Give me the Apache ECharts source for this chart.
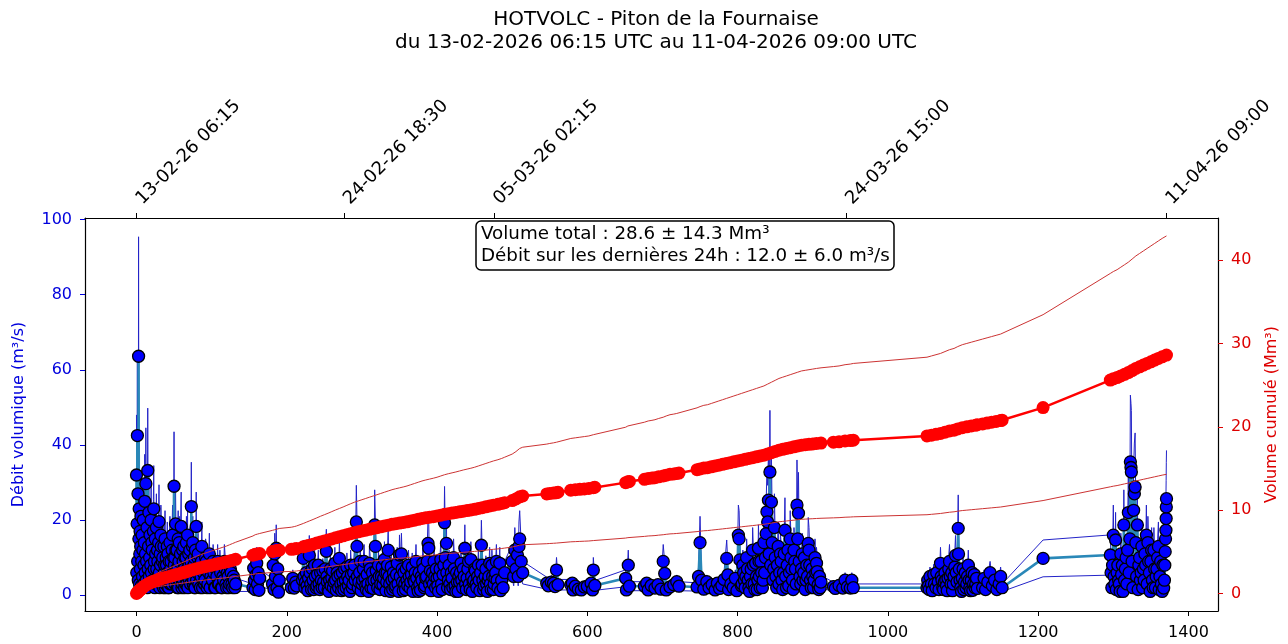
<!DOCTYPE html>
<html><head><meta charset="utf-8">
<script src="https://cdn.jsdelivr.net/npm/echarts@6/dist/echarts.min.js"></script>
<style>html,body{margin:0;padding:0;background:#fff}#c{width:1288px;height:644px}</style>
</head><body><div id="c"></div>
<script>
// Hours since 13-02-2026 06:15 UTC, volumetric flow (m3/s)
const flow = [
[0,32],[0.4,6],[0.8,19],[1.2,42.5],[1.6,9],[2,27],[2.4,4],[2.8,63.6],[3.2,15],[3.6,23],[4,3],[4.4,11],[4.8,17],[5.2,7],[5.6,13],[6,21],[6.5,2.5],[7,9],[7.5,16],[8,5],[8.5,12],[9,20],[9.5,3],[10,8],[10.5,14],[11,25],[11.5,6],[12,11],[12.5,29.7],[13,4],[13.5,9],[14,18],[14.5,2],[15,33.2],[15.5,7],[16,13],[16.5,22],[17,5],[17.5,10],[18,16],[18.5,3],[19,8],[19.5,20],
[20,6],[20.5,14],[21,12],[21.5,3],[22,4],[22.5,17],[23,23],[23.5,7],[24,9],[24.5,2],[25,15],[25.5,11],[26,3],[26.5,18],[27,7],[27.5,4],[28,12],[28.5,9],[29,5],[29.5,14],[30,19.6],[30.5,6],[31,2],[31.5,11],[32,8],[32.5,16],[33,13],[33.5,3],[34,4],[34.5,9],[35,10],[35.5,5],[36,2],[36.5,13],[37,6],[37.5,8],[38,15],[38.5,2],[39,3],[39.5,10],
[40,8],[40.5,4],[41,13],[41.5,6],[42,11],[42.5,2],[43,2],[43.5,9],[44,6],[44.5,14],[45,3],[45.5,7],[46,9],[46.5,4],[47,3],[47.5,12],[48,16],[48.5,6],[49,5],[49.5,10],[50,29],[50.5,8],[51,10],[51.5,3],[52,19],[52.5,12],[53,4],[53.5,7],[54,12],[54.5,2],[55,7],[55.5,15],[56,2],[56.5,9],[57,14],[57.5,4],[58,5],[58.5,11],[59.5,18.3],[60,6],[60.5,2],[61,3],[61.5,12],[62,9],[62.5,4],[63,13],[63.5,7],[64,2],[64.5,10],[65,6],[65.5,3],[66,10],[66.5,14],[67,3],[67.5,7],[68,16],[68.5,2],[69,5],[69.5,11],[70,8],[70.5,4],[71,12],[71.5,6],[72,3],[72.5,9],[73,23.6],[73.5,5],[74,7],[74.5,13],[75,14],[75.5,3],[76,4],[76.5,8],[77,10],[77.5,2],[78,2],[78.5,12],[79,6],[79.5,18.3],
[80,4],[81,6],[81.5,10],[82,11],[83,3],[83.5,7],[84,8],[85,2],[86,5],[86.5,9],[87,13],[88,2],[89,6],[90,7],[90.5,3],[91,4],[92,10],[93,9],[94,2],[95,3],[95.5,7],[96,6],[97,11],[98,2],[99,5],[100,8],[101,4],[102,9],[103,6],[104,2],[105,2],[106,7],[107,5],[108,9],[109,3],[110,3],[111,8],[112,6],[113,2],[114,2],[115,5],[116,4],[117,9],[118,7],[119,3],[120,2],[121,6],[122,5],[123,2],[124,3],[125,7],[126,6],[127,3],[128,2],[129,5],[130,4],[131,2],[132,3],
[155,2],[156,7.2],[157,4],[158,1.5],[159,5.3],[160,8.5],[161,3],[162,6],[163,1.3],[164,4.5],
[181,3],[182,8],[183,1.5],[184,11],[185,5],[186,12.5],[187,2],[188,7],[189,0.8],[190,4],
[206,2],[208,4.5],[210,1.9],[212,3.5],[213,2.5],
[221,4],[222,9.8],[223,5],[224,2],[225,3.5],[226,6],[227,2.5],[228,1.2],[229,4.5],[230,10.6],[231,6],[232,3],[233,1.5],[234,7],[235,4],[236,1.5],[237,8],[238,5],[239,2],[240,2.5],[241,5.5],[242,8],[243,3],[244,1.5],[245,6],[246,4],[247,2],[248,6.5],[249,3.5],[250,2],[251,7],[252.7,11.7],[253.5,5],[254,3.5],[255,1.5],[256,1],[257,4],[258,7],[259,2.5],[260,4.5],[261,6.5],[262,2],[263,3.5],[264,8.5],[265,4],[266,1.3],[267,6],[268,5],[269,2],[270,9.8],[271,5.5],[272,3],[273,1.2],[274,6],[275,3.5],[276,1.5],[277,7],[278,4],[279,2],[280,7.5],[281,5],[282,2.5],[283,4],[284,1],[285,8],[286,5.5],[287,2],[288,3],[289,6],[290,8],[291,4],[292.6,19.5],[293.5,13],[294,5],[295,2],[296,3.5],[297,6],[298,9],[299,1.2],[300,3],[301,4],[302,7],[303,9],[304,4.5],[305,2.5],[306,1.5],[307,5.5],[308,3],[309,1],[310,8.5],[311,7],[312,2],[313,3.5],[314,6],[315,1.8],[316,4],[317,18.7],[318,13],[319,6.5],[320,4],[321,2],[322,8],[323,5],[324,1.5],[325,3],[326,5],[327,7.5],[328,2.8],[329,4.5],[330,9.5],[331,6],[332,1.2],[333,3.5],[333.5,6],[334,8],[335,12],[336,5],[337,3],[338,1],[339,7.5],[340,4],[341,1.5],[342,6],[343,4.5],[344,2],[345,2.5],[346,5.5],[347,8.5],[348,3],[349,1],[350,10.7],[351,5],[352.6,11],[353.5,7],[354,3.5],[355,1.2],[356,6],[357,3],[358,1.5],[359,7],[360,4],[361,2.5],[362,8],[363,5],[364,2],[365,3.5],[366,5.5],[367,7.5],[368,1],[369,4],[370,3.5],[371,6],[372,9],[373,4.5],[374,2],[375,1],[376,6],[377,3],[378,1.3],[379,5],[380,4],[381,8.5],[382,7],[383,2],[384,2.5],[385,4.5],[386,5],[387,9],[388,13.8],[389,12.5],[390,3],[391,6.5],[392,1.2],[393,4],[394,6],[395,3],[396,9],[397,5],[398,2],[399,7],[400,4.5],[401,2.5],[402,1],[403,5],[404,7],[405,9.5],[406,3],[407,1.5],[408,5.5],[409,8],[410,19.3],[411,10],[412.5,13.8],[413,6],[414,2],[415,4],[416,8],[417,3],[418,1.5],[419,6],[420,4.5],[421,2],[422,10],[423,7],[424,2.5],[425,1],[426,6],[427,3.5],[428,1],[429,5],[430,3.5],[431,6],[432,8.5],[433,4],[434,2],[435,7],[436,5],[437,12.5],[438,3],[439,1.5],[440,4.5],[441,7],[442,9],[443,3],[444,1.5],[445,9.5],[446,5],[447,1],[448,3.5],[449,4],[450,7],[451,6.5],[452,3],[453,2],[454,5],[455,8],[456,4],[457,1.2],[458,6],[459,13.3],[460,8],[461,4],[462,1.5],[463,2.5],[464,5],[465,7],[466,3],[467,1],[468,4],[469,5],[470,8.5],[471,3],[472,1.5],[473,8],[474,5],[475,1.5],[476,3],[477,4.5],[478,6],[479,9],[480,4],[481,2],
[483.5,8.5],[484.5,1.2],[486,4],[488,2],[490,6],[500,9],[502,5],[503.5,12],[505,7],[507,10.7],[508,5],[509,13],[510,15],[512,9],[514,6],
[546,3.2],[548,2.5],[552,3.5],[555,3.2],[557,2.3],[559,6.7],[561,2.8],
[578,2.8],[580,3.2],[581,1.4],[584,2.4],[588,1.6],[592,1.4],[596,2.2],[600,2.4],[605,3.2],[607,1.4],[608,6.7],[610,2.6],
[651,4.5],[652,1.4],[654.5,8],[656,2.4],
[676,2.4],[679,3.2],[681,1.4],[685,2.6],[690,1.9],[694,2.8],[698,1.6],[701,9],[703,5.8],[705,1.4],[710,2.2],[715,2.8],[719,3.6],[722,2.4],
[746,2.2],[748,5],[750,14],[752,4],[755,1.6],[759,3.6],[762,2],[766,2.8],[770,1.4],[773,3.2],[776,1.8],[779,2.6],[782,4.2],[785.5,9.8],[787,5.4],[788,1.5],[791,3],[794,2],[797,4.5],[799,1.2],[801,16],[802,15],[803,9.4],[805,2.5],
[806,3],[807,8],[808,6],[809,4],[810,2],[811,5],[812,10],[813,7],[814,4],[815,2],[816,1],[817,5],[818,7],[819,3],[820,12],[821,8],[822,3],[823,1.5],[824,8.5],[825,5],[826,1.5],[827,4],[827.7,12.5],[828.5,9],[829,5],[830,2],[831,9],[832,6],[833,2],[834,4],[835,14],[836,6],[837,10],[838,16.4],[839,22.2],[840,19.5],[841,25.3],[842,11],[843,32.8],[844,8],[845,24.8],[846,14],[847,4],[848,7],[849,18],[850,10],[851,5],[852,2],[853,8],[854,13],[855,3],[856,6],[857,11],[858,9],[859,4],[860,1.5],[861,6],[862,11],[863,17.3],[864,5],[865,2],[866,8],[867,12],[868,2.5],[869,6],[870,15],[871,10],[872,7],[873,4],[874,1.5],[875,12],[876,9],[877,7],[878,3],[879,24],[880,15],[881,21.8],[882,9],[883,5],[884,3],[885,7],[886,11],[887,4],[888,6],[889,10],[890,1.5],[891,4],[892,8],[893,5],[894,13.8],[895,12],[896,8],[897,4],[898,2],[899,7],[900,5],[901,2],[902,4],[903,10],[904,6],[905,8.5],[906,6.3],[907,2.7],[908,1.5],[909,5],[910,2],[911,3.5],
[927.5,2.3],[930,1.8],[935,2.6],[940,1.9],[943,4],[946,2.2],[950,1.9],[952,4],[954,2],
[1052,2],[1053,4],[1054,2.5],[1055,1.5],[1056,5],[1058,3],[1059,1.2],[1061,5.5],[1062,3],[1064,2],[1065,6],[1067,3.5],[1068,1.5],[1070,8.5],[1071,5],[1072,4],[1073,2],[1074,1.5],[1075,3.5],[1076,6],[1077,4],[1078,2.5],[1079,1.2],[1080,4.5],[1081,7],[1082,9],[1083,5],[1084,3],[1085,6],[1086,1.2],[1087,3],[1088,5],[1089,7.5],[1090,10.6],[1091,6],[1092,3.5],[1093.6,17.8],[1094,11],[1095,7],[1096,4],[1097,2],[1098,1],[1099,4.5],[1100,7],[1101,1.5],[1102,3.5],[1103,6],[1104,2],[1105,3],[1106,5],[1107,8],[1108,4],[1109,2],[1110,1.2],[1111,4],[1112,6],[1113,1.3],[1114,3],[1115,5.5],[1116,2],[1117,3],[1118,4.5],[1119,1.8],
[1126,2],[1128,4.5],[1130,1.5],[1133,3.5],[1136,6],[1139,2.5],[1142,4],[1145,1.5],[1148,3],[1150,5],[1152,2],
[1206.5,9.8],
[1296,10.7],[1297,6],[1298,2],[1299,8],[1300,16],[1301,5],[1302,3],[1303,14.7],[1304,1.5],[1305,6],[1306,8],[1307,4],[1308,3],[1309,1],[1310,11],[1311,5.5],[1312,8],[1313,1],[1314,18.7],[1315,4],[1316,7],[1317,10],[1318,3],[1319,12],[1320,22],[1321,6],[1322,15],[1322.7,35.5],[1323.5,34],[1324,32.8],[1325,9],[1326,2],[1327,22.6],[1328,27],[1329,28.8],[1330,14],[1331,5],[1332,18.7],[1333,1.5],[1334,8],[1335,10],[1336,4],[1337,6],[1338,13],[1339,2],[1340,7],[1341,4],[1342,11],[1343,8],[1344,16],[1345,3],[1346,14],[1347,9],[1348,6],[1349,1],[1350,9],[1351,12],[1352,4],[1353,2],[1354,12],[1355,7],[1356,2],[1357,5],[1358,7],[1359,10],[1360,13],[1361,1.5],[1362,5],[1363,9],[1364,3],[1365,1],[1366,8],[1367,1.9],[1368,4],[1368.5,8],[1369,11.6],[1369.5,15],[1370,17.3],[1370.3,20.4],[1370.5,23.5],[1370.75,25.7]
];

// Hours, cumulative volume (Mm3)
const cumulative = [
[0,0],[1,0.1],[2,0.2],[3,0.28],[4,0.37],[5,0.45],[6,0.53],[8,0.68],[10,0.85],[12,0.97],[15,1.15],[18,1.28],[21,1.4],[24,1.5],[27,1.6],[30,1.7],[33,1.78],[36,1.85],[40,1.95],[44,2.05],[48,2.15],[52,2.25],[56,2.35],[60,2.45],[63,2.52],[66,2.6],[70,2.72],[75,2.85],[80,2.98],[85,3.1],[90,3.2],[95,3.3],[100,3.4],[105,3.5],[110,3.6],[115,3.7],[120,3.8],[124,3.9],[128,4.0],[132,4.1],
[155,4.6],[158,4.7],[161,4.75],[164,4.8],[181,5.05],[184,5.1],[187,5.15],[190,5.2],[206,5.3],[210,5.35],[213,5.4],
[222,5.6],[226,5.7],[230,5.8],[235,5.92],[240,6.05],[245,6.18],[250,6.3],[255,6.42],[260,6.55],[265,6.68],[270,6.8],[275,6.92],[280,7.05],[285,7.18],[290,7.3],[295,7.4],[300,7.5],[305,7.6],[310,7.7],[315,7.8],[320,7.9],[325,8.0],[330,8.1],[335,8.2],[340,8.3],[345,8.38],[350,8.45],[355,8.52],[360,8.6],[365,8.7],[370,8.8],[375,8.9],[380,9.0],[385,9.08],[390,9.15],[395,9.22],[400,9.3],[405,9.4],[410,9.5],[415,9.58],[420,9.65],[425,9.72],[430,9.8],[435,9.88],[440,9.95],[445,10.02],[450,10.1],[455,10.2],[460,10.3],[465,10.4],[470,10.5],[475,10.6],[481,10.7],[486,10.8],[490,10.9],[500,11.15],[505,11.35],[510,11.6],[514,11.7],
[546,11.95],[550,12.0],[555,12.05],[559,12.1],[561,12.15],
[578,12.4],[584,12.45],[590,12.5],[596,12.55],[602,12.6],[608,12.7],[610,12.75],
[651,13.3],[654,13.4],[656,13.45],
[676,13.7],[681,13.8],[686,13.85],[690,13.9],[695,14.0],[701,14.1],[705,14.2],[710,14.3],[715,14.35],[719,14.4],[722,14.45],
[746,14.85],[750,14.95],[755,15.05],[760,15.1],[765,15.2],[770,15.3],[775,15.4],[780,15.5],[785,15.6],[790,15.7],[795,15.8],[800,15.9],[805,16.0],[810,16.1],[815,16.2],[820,16.3],[825,16.4],[830,16.5],[835,16.6],[840,16.75],[845,16.9],[850,17.05],[855,17.2],[860,17.3],[865,17.4],[870,17.5],[875,17.6],[880,17.7],[885,17.8],[890,17.85],[895,17.9],[900,17.95],[905,18.0],[911,18.05],
[927.5,18.15],[935,18.2],[943,18.3],[950,18.35],[954,18.4],
[1052,18.9],[1058,19.0],[1064,19.1],[1070,19.2],[1076,19.35],[1082,19.5],[1088,19.6],[1093,19.75],[1099,19.9],[1105,20.0],[1111,20.1],[1117,20.2],[1119,20.25],
[1126,20.35],[1132,20.45],[1138,20.55],[1144,20.65],[1150,20.75],[1152,20.8],
[1206.5,22.3],
[1296,25.6],[1300,25.75],[1305,25.9],[1310,26.1],[1315,26.3],[1320,26.5],[1325,26.75],[1330,27.0],[1335,27.2],[1340,27.4],[1345,27.6],[1350,27.8],[1355,28.0],[1360,28.2],[1365,28.4],[1370.75,28.6]
];

const bottomTicks = [0,200,400,600,800,1000,1200,1400];
const leftTicks = [0,20,40,60,80,100];
const rightTicks = [0,10,20,30,40];
const topTickHours = [0,276.25,476,944.75,1370.75];
const topTickLabels = ['13-02-26 06:15','24-02-26 18:30','05-03-26 02:15','24-03-26 15:00','11-04-26 09:00'];
const uncertainty = 0.5;

const FONT = 'DejaVu Sans';
const upper = a => a.map(([t,v]) => [t, v*(1+uncertainty)]);
const lower = a => a.map(([t,v]) => [t, v*(1-uncertainty)]);

const chart = echarts.init(document.getElementById('c'), null, {renderer:'canvas'});
const xMin = -68.5, xMax = 1439.3;
const yMax = 100.4;
const spine = () => ({show:true,onZero:false,lineStyle:{color:'#000',width:1.2}});
chart.setOption({
  animation:false,
  backgroundColor:'#fff',
  textStyle:{fontFamily:FONT},
  title:[{
    text:'HOTVOLC - Piton de la Fournaise\ndu 13-02-2026 06:15 UTC au 11-04-2026 09:00 UTC',
    left:651, top:3, textAlign:'center',
    textStyle:{fontFamily:FONT,fontSize:20,fontWeight:'normal',color:'#000',lineHeight:23.5}
  },{
    text:'Volume total : 28.6 ± 14.3 Mm³\nDébit sur les dernières 24h : 12.0 ± 6.0 m³/s',
    left:476, top:221, padding:[3,5,3,5],
    borderColor:'#000', borderWidth:1.5, borderRadius:5, backgroundColor:'#fff',
    textStyle:{fontFamily:FONT,fontSize:18.3,fontWeight:'normal',color:'#000',lineHeight:21.5}
  }],
  grid:{left:85,right:70,top:218,bottom:33,containLabel:false},
  xAxis:[{
    type:'value', position:'bottom', min:xMin, max:xMax,
    axisLine:spine(),
    axisTick:{show:true,length:5,customValues:bottomTicks,lineStyle:{color:'#000'}},
    axisLabel:{customValues:bottomTicks,fontFamily:FONT,fontSize:16,color:'#000',margin:14,formatter:v=>String(v)},
    splitLine:{show:false}
  },{
    type:'value', position:'top', min:xMin, max:xMax,
    axisLine:spine(),
    axisTick:{show:true,length:5,customValues:topTickHours,lineStyle:{color:'#000'}},
    axisLabel:{show:false},
    splitLine:{show:false}
  }],
  yAxis:[{
    type:'value', position:'left', min:-4.2, max:yMax,
    name:'Débit volumique (m³/s)', nameLocation:'middle', nameGap:58,
    nameTextStyle:{fontFamily:FONT,fontSize:16,color:'#0000dd'},
    axisLine:spine(),
    axisTick:{show:true,length:5,customValues:leftTicks,lineStyle:{color:'#0000dd'}},
    axisLabel:{customValues:leftTicks,fontFamily:FONT,fontSize:16,color:'#0000dd',margin:13,formatter:v=>String(v)},
    splitLine:{show:false}
  },{
    type:'value', position:'right', min:-2.1, max:45.05,
    name:'Volume cumulé (Mm³)', nameLocation:'middle', nameGap:46,
    nameTextStyle:{fontFamily:FONT,fontSize:16,color:'#dd0000'},
    axisLine:spine(),
    axisTick:{show:true,length:5,customValues:rightTicks,lineStyle:{color:'#dd0000'}},
    axisLabel:{customValues:rightTicks,fontFamily:FONT,fontSize:16,color:'#dd0000',margin:13,formatter:v=>String(v)},
    splitLine:{show:false}
  }],
  series:[
    {type:'line',data:upper(flow),yAxisIndex:0,symbol:'none',silent:true,lineStyle:{color:'#2323c8',width:1},z:2},
    {type:'line',data:lower(flow),yAxisIndex:0,symbol:'none',silent:true,lineStyle:{color:'#2323c8',width:1},z:2},
    {type:'line',data:flow,yAxisIndex:0,symbol:'none',silent:true,lineStyle:{color:'#2a88b8',width:2.6},z:3},
    {type:'scatter',data:flow,yAxisIndex:0,symbol:'circle',symbolSize:12,silent:true,
      itemStyle:{color:'#0000ff',borderColor:'#000',borderWidth:1.3,opacity:1},z:4},
    {type:'line',data:upper(cumulative),yAxisIndex:1,symbol:'none',silent:true,lineStyle:{color:'#cc3333',width:1},z:5},
    {type:'line',data:lower(cumulative),yAxisIndex:1,symbol:'none',silent:true,lineStyle:{color:'#cc3333',width:1},z:5},
    {type:'line',data:cumulative,yAxisIndex:1,symbol:'circle',symbolSize:13,showAllSymbol:true,silent:true,
      itemStyle:{color:'#ff0000',borderWidth:0},lineStyle:{color:'#ff0000',width:2.5},z:6}
  ]
});

// Rotated date labels of the top axis, placed at the axis's own tick positions
const axisTop = chart.convertToPixel({yAxisIndex:0}, yMax);
chart.setOption({
  graphic: topTickHours.map((h,i) => {
    const px = chart.convertToPixel({xAxisIndex:1}, h);
    return {
      type:'text', x: px + 9, y: axisTop - 10, rotation: Math.PI/4, silent:true, z:10,
      style:{text: topTickLabels[i], fontFamily:FONT, fontSize:18, fill:'#000',
        textAlign:'left', align:'left', textVerticalAlign:'bottom', verticalAlign:'bottom'}
    };
  })
});
</script></body></html>
